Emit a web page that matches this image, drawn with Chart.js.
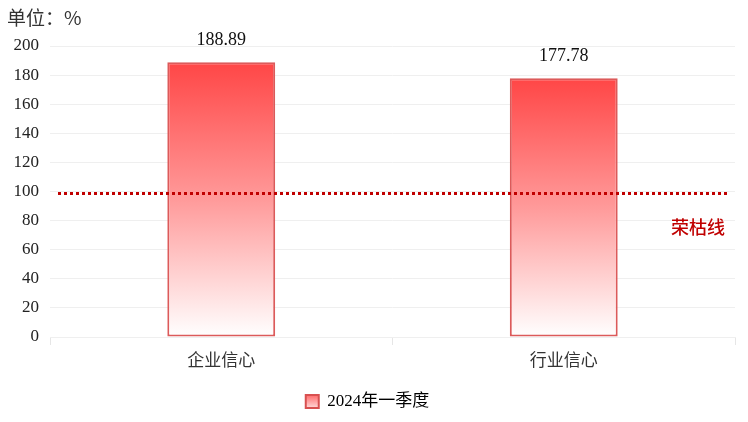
<!DOCTYPE html>
<html>
<head>
<meta charset="utf-8">
<script src="https://cdn.jsdelivr.net/npm/chart.js@4"></script>
<style>
  html, body { margin: 0; padding: 0; background: #fff; }
  #wrap { width: 748px; height: 422px; }
</style>
</head>
<body>
<div id="wrap"><canvas id="chart"></canvas></div>
<script>
const categories = ['企业信心', '行业信心'];
const seriesName = '2024年一季度';
const values = [188.89, 177.78];
const yTicks = [0, 20, 40, 60, 80, 100, 120, 140, 160, 180, 200];
const refValue = 100;
const refLabel = '荣枯线';
const unitText = '单位：%';

const numFont = '"Liberation Serif", "DejaVu Serif", serif';
const cjkFont = '"Liberation Serif", "Noto Sans CJK SC", serif';

function barGradient(context) {
    const chart = context.chart;
    if (!chart.chartArea || context.type !== 'data') return '#ff6060';
    const y = chart.scales.y;
    const top = y.getPixelForValue(context.parsed.y);
    const bottom = y.getPixelForValue(0);
    const g = chart.ctx.createLinearGradient(0, top, 0, bottom);
    g.addColorStop(0, '#ff4646');
    g.addColorStop(0.5, '#ff9a9a');
    g.addColorStop(1, '#ffffff');
    return g;
}

const extras = {
    id: 'extras',
    afterDatasetsDraw(chart) {
        const { ctx, chartArea, scales } = chart;
        ctx.save();
        // value labels
        const meta = chart.getDatasetMeta(0);
        ctx.font = '18px ' + numFont;
        ctx.fillStyle = '#111';
        ctx.textAlign = 'center';
        ctx.textBaseline = 'middle';
        meta.data.forEach((bar, i) => {
            ctx.fillText(values[i].toFixed(2), bar.x, bar.y - 22);
        });
        // reference line
        const ry = scales.y.getPixelForValue(refValue) + 2;
        ctx.strokeStyle = '#c00000';
        ctx.lineWidth = 3;
        ctx.setLineDash([3, 3]);
        ctx.beginPath();
        ctx.moveTo(chartArea.left + 8, ry);
        ctx.lineTo(chartArea.right - 8, ry);
        ctx.stroke();
        ctx.setLineDash([]);
        ctx.fillStyle = '#c00000';
        ctx.font = '500 18px "Noto Sans CJK SC", sans-serif';
        ctx.textAlign = 'right';
        ctx.fillText(refLabel, chartArea.right - 10, ry + 34);
        // unit title
        ctx.fillStyle = '#333';
        ctx.font = '19px "Noto Sans CJK SC", sans-serif';
        ctx.textAlign = 'left';
        ctx.fillText(unitText, 7, 18);
        ctx.restore();
    }
};

new Chart(document.getElementById('chart'), {
    type: 'bar',
    data: {
        labels: categories,
        datasets: [{
            label: seriesName,
            data: values,
            backgroundColor: barGradient,
            borderColor: '#dc5a5a',
            borderWidth: 2,
            borderSkipped: false,
            categoryPercentage: 0.63,
            barPercentage: 0.5
        }]
    },
    options: {
        responsive: true,
        maintainAspectRatio: false,
        animation: false,
        layout: { padding: { top: 46, right: 13, bottom: 2, left: 0 } },
        scales: {
            y: {
                min: 0,
                max: 200,
                afterBuildTicks(scale) { scale.ticks = yTicks.map(v => ({ value: v })); },
                afterFit(scale) { scale.width = 50; },
                ticks: { color: '#222', font: { family: numFont, size: 17 }, padding: 11 },
                grid: { color: '#efefef', drawTicks: false },
                border: { display: false }
            },
            x: {
                afterFit(scale) { scale.height = 44; },
                ticks: { color: '#333', font: { family: cjkFont, size: 17 }, padding: 6 },
                grid: { offset: true, drawOnChartArea: false, color: '#e6e6e6', tickLength: 8 },
                border: { color: '#efefef' }
            }
        },
        plugins: {
            tooltip: { enabled: false },
            legend: {
                position: 'bottom',
                labels: {
                    color: '#222',
                    font: { family: cjkFont, size: 17 },
                    boxWidth: 13,
                    boxHeight: 13,
                    padding: 12,
                    generateLabels(chart) {
                        const g = chart.ctx.createLinearGradient(0, 393, 0, 407);
                        g.addColorStop(0, '#ff5a5a');
                        g.addColorStop(1, '#ffd0d0');
                        return [{
                            text: seriesName,
                            fillStyle: g,
                            strokeStyle: '#d85050',
                            lineWidth: 2,
                            datasetIndex: 0
                        }];
                    }
                }
            }
        }
    },
    plugins: [extras]
});
</script>
</body>
</html>
